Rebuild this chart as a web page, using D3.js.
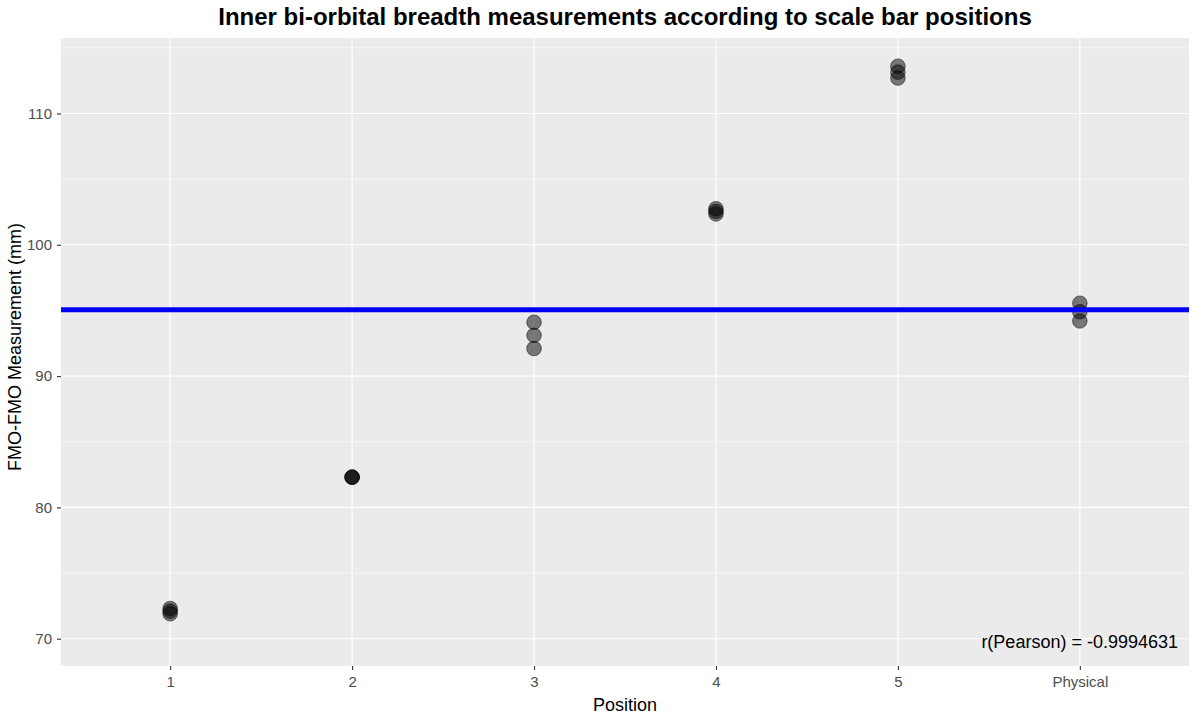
<!DOCTYPE html>
<html>
<head>
<meta charset="utf-8">
<script src="https://cdn.jsdelivr.net/npm/d3@7"></script>
<style>
  body { margin: 0; background: #fff; }
  svg { display: block; font-family: "Liberation Sans", Arial, sans-serif; }
</style>
</head>
<body>
<svg id="chart" width="1191" height="715"></svg>
<script>
// data
const positions = ["1", "2", "3", "4", "5", "Physical"];
const pos1 = [72.3, 72.1, 71.9];
const pos2 = [82.3, 82.3, 82.3];
const pos3 = [94.1, 93.1, 92.1];
const pos4 = [102.75, 102.55, 102.35];
const pos5 = [113.6, 113.15, 112.7];
const physical = [95.55, 94.9, 94.2];
const yTicks = [70, 80, 90, 100, 110];
const yMinor = [75, 85, 95, 105, 115];
const refLine = 95.05;
const pearson = "r(Pearson) = -0.9994631";

const svg = d3.select("#chart");
const W = 1191, H = 715;
const m = { left: 61, right: 2, top: 38, bottom: 49 };

const points = [pos1, pos2, pos3, pos4, pos5, physical]
  .flatMap((vals, i) => vals.map((v) => ({ pos: positions[i], v })));

const x = d3.scalePoint().domain(positions).range([m.left, W - m.right]).padding(0.6);
const y = d3.scaleLinear().domain([67.92, 115.75]).range([H - m.bottom, m.top]);

// panel
svg.append("rect")
  .attr("x", m.left).attr("y", m.top)
  .attr("width", W - m.right - m.left).attr("height", H - m.bottom - m.top)
  .attr("fill", "#EBEBEB");

const grid = svg.append("g");
grid.selectAll(".minor").data(yMinor).join("line")
  .attr("x1", m.left).attr("x2", W - m.right)
  .attr("y1", (d) => y(d)).attr("y2", (d) => y(d))
  .attr("stroke", "#fff").attr("stroke-width", 0.55);
grid.selectAll(".major").data(yTicks).join("line")
  .attr("x1", m.left).attr("x2", W - m.right)
  .attr("y1", (d) => y(d)).attr("y2", (d) => y(d))
  .attr("stroke", "#fff").attr("stroke-width", 1.1);
grid.selectAll(".vmajor").data(positions).join("line")
  .attr("x1", (d) => x(d)).attr("x2", (d) => x(d))
  .attr("y1", m.top).attr("y2", H - m.bottom)
  .attr("stroke", "#fff").attr("stroke-width", 1.1);

// axes
const yAxis = svg.append("g")
  .attr("transform", `translate(${m.left},0)`)
  .call(d3.axisLeft(y).tickValues(yTicks).tickSize(4).tickPadding(5));
const xAxis = svg.append("g")
  .attr("transform", `translate(0,${H - m.bottom})`)
  .call(d3.axisBottom(x).tickSize(4).tickPadding(6));
[xAxis, yAxis].forEach((g) => {
  g.select(".domain").remove();
  g.selectAll(".tick line").attr("stroke", "#333").attr("stroke-width", 1.1);
  g.selectAll(".tick text").attr("fill", "#4D4D4D").style("font-size", "15px");
});

// points
svg.append("g").selectAll("circle").data(points).join("circle")
  .attr("cx", (d) => x(d.pos)).attr("cy", (d) => y(d.v))
  .attr("r", 7.3)
  .attr("fill", "#000").attr("fill-opacity", 0.5)
  .attr("stroke", "#000").attr("stroke-opacity", 0.5).attr("stroke-width", 1);

// reference line
svg.append("line")
  .attr("x1", m.left).attr("x2", W - m.right)
  .attr("y1", y(refLine)).attr("y2", y(refLine))
  .attr("stroke", "#0000FF").attr("stroke-width", 5);

// annotation
svg.append("text")
  .attr("x", 1178).attr("y", y(70) + 9)
  .attr("text-anchor", "end")
  .style("font-size", "18px").attr("fill", "#000")
  .text(pearson);

// titles
svg.append("text")
  .attr("x", (m.left + W - m.right) / 2).attr("y", 25)
  .attr("text-anchor", "middle")
  .style("font-size", "24px").style("font-weight", "bold")
  .text("Inner bi-orbital breadth measurements according to scale bar positions");
svg.append("text")
  .attr("x", (m.left + W - m.right) / 2).attr("y", 711)
  .attr("text-anchor", "middle")
  .style("font-size", "18px")
  .text("Position");
svg.append("text")
  .attr("transform", `translate(21,${(m.top + H - m.bottom) / 2 - 5}) rotate(-90)`)
  .attr("text-anchor", "middle")
  .style("font-size", "18px")
  .text("FMO-FMO Measurement (mm)");
</script>
</body>
</html>
